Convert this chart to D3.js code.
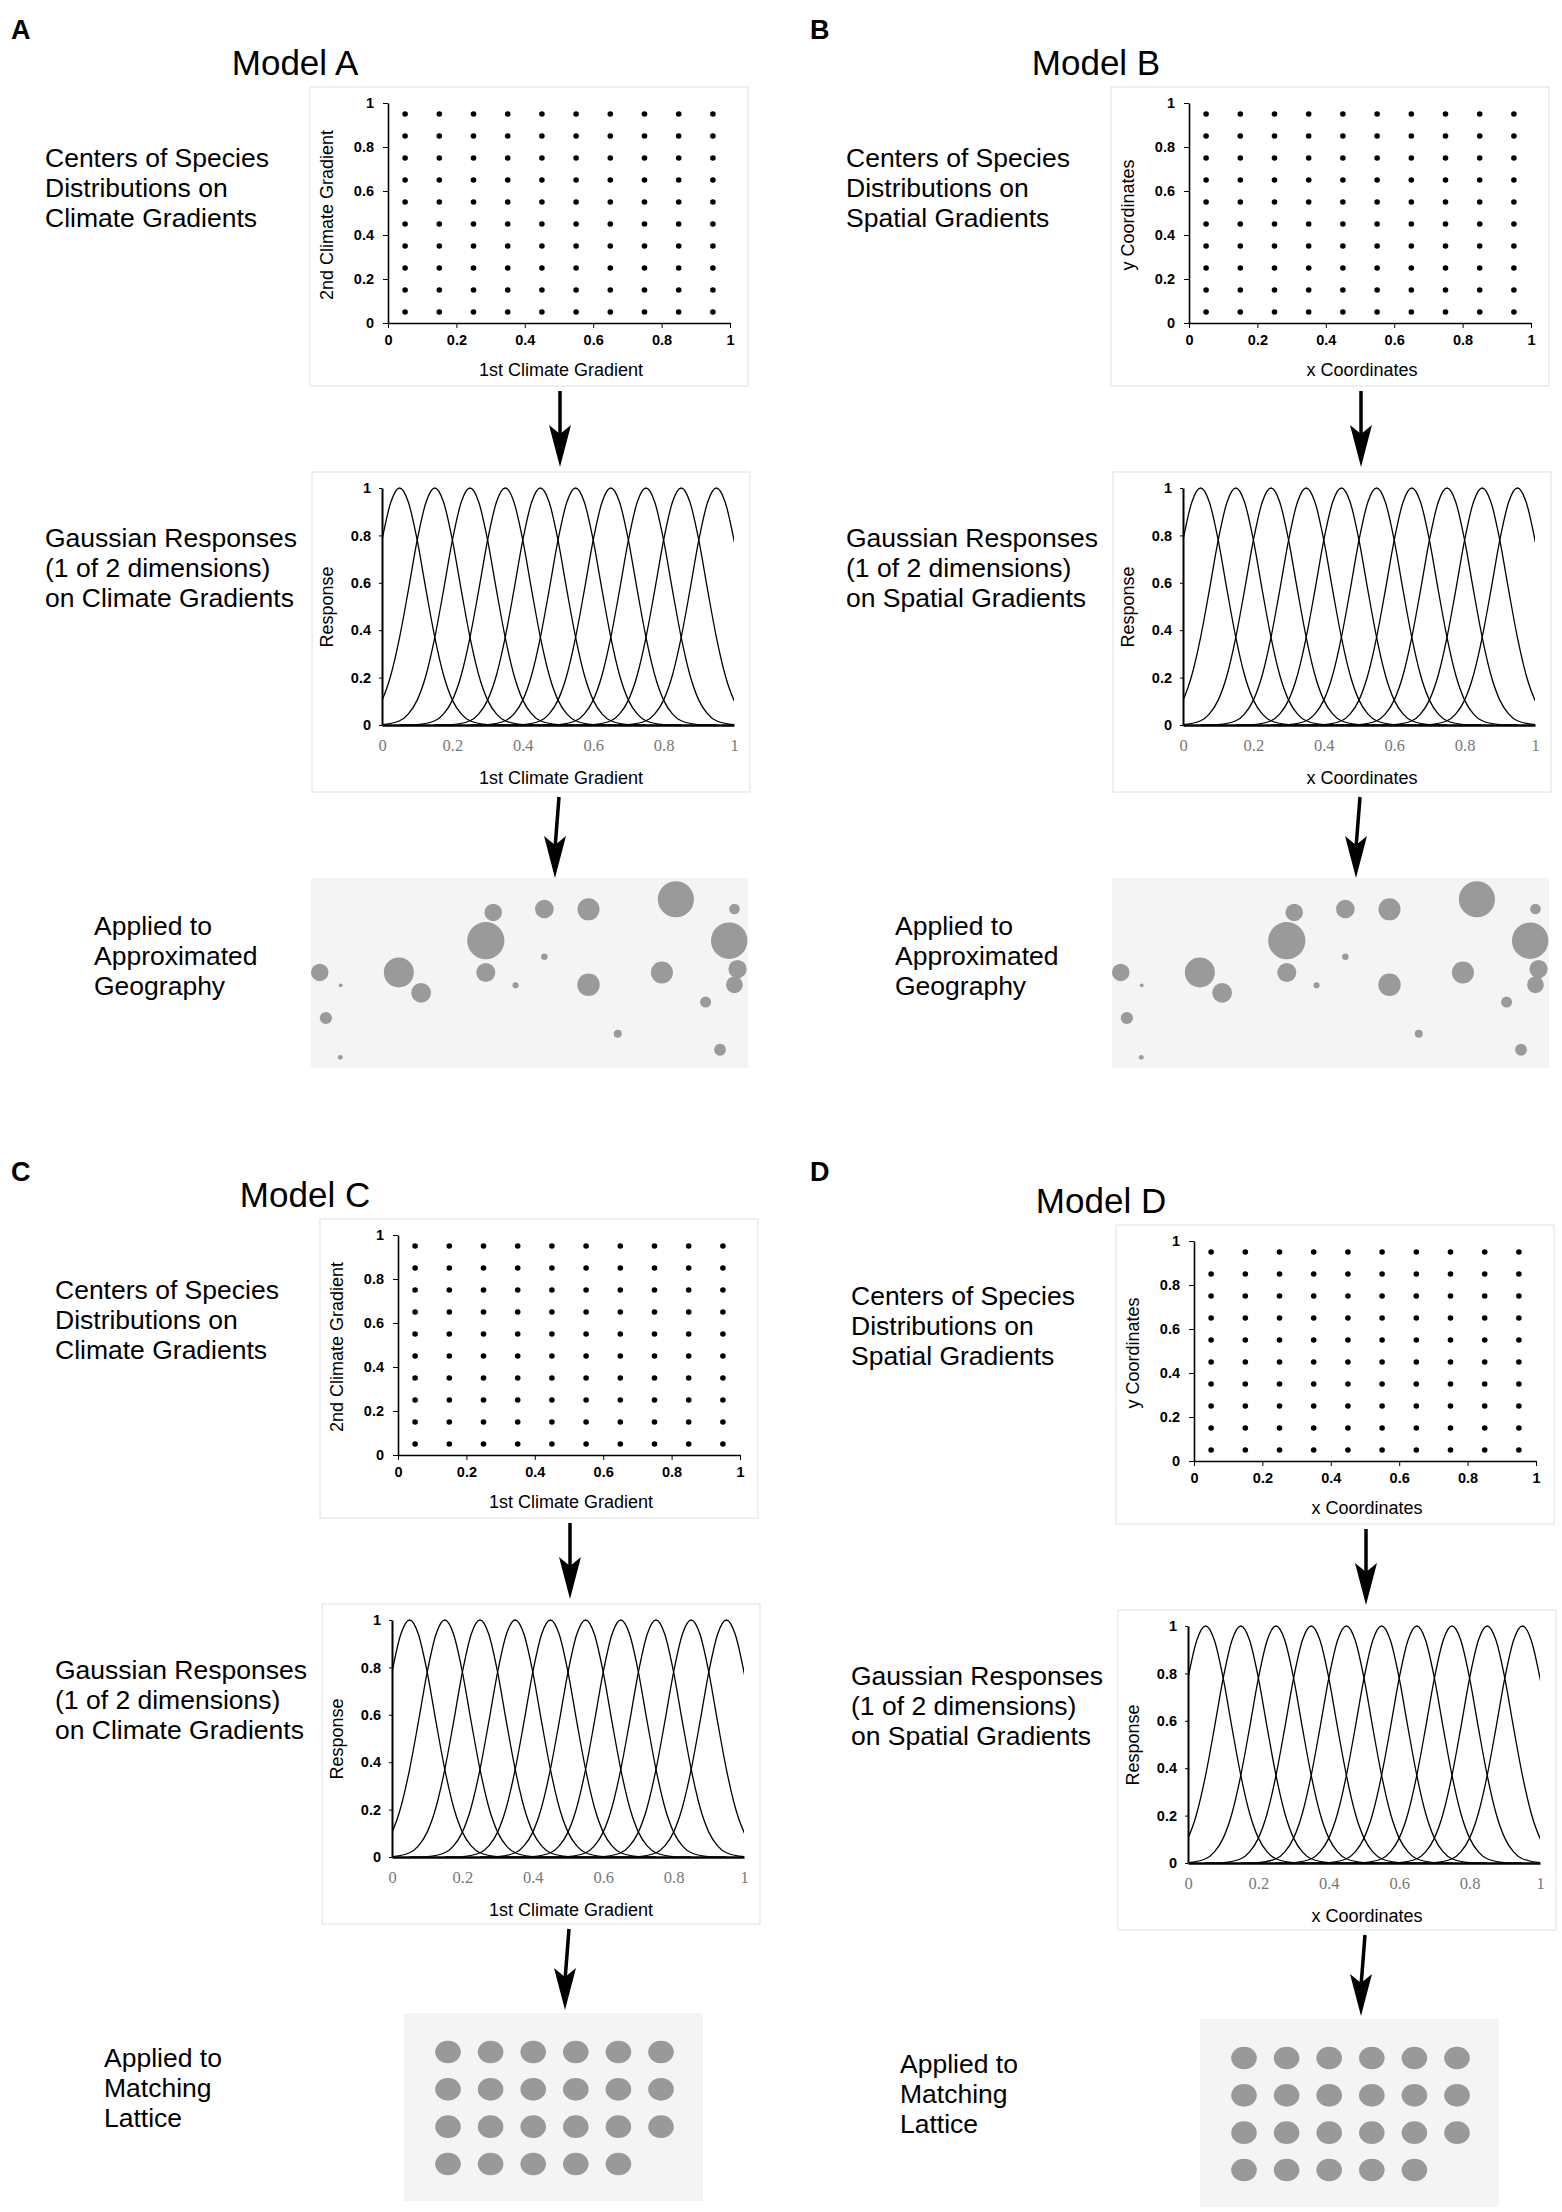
<!DOCTYPE html>
<html>
<head>
<meta charset="utf-8">
<script src="https://cdn.jsdelivr.net/npm/d3@7"></script>
<style>
  body { margin: 0; background: #fff; }
  text { font-family: "Liberation Sans", Arial, sans-serif; }
</style>
</head>
<body>
<div id="chart"></div>
<script>
// ---- data ----
const panelLetters = ["A", "B", "C", "D"]
const modelNames = ["Model A", "Model B", "Model C", "Model D"]

// centres of species distributions (same on both axes)
const gridCenters = [0.05, 0.15, 0.25, 0.35, 0.45, 0.55, 0.65, 0.75, 0.85, 0.95]
const axisTicks = [0, 0.2, 0.4, 0.6, 0.8, 1]

// one gaussian response, read as distance from its centre -> response
const profileOffset = [0, 0.025, 0.05, 0.075, 0.1, 0.125, 0.15, 0.175, 0.2, 0.25, 0.3]
const profileResponse = [1, 0.94, 0.78, 0.57, 0.37, 0.21, 0.105, 0.047, 0.018, 0.002, 0]

// approximated geography: site position in the box (0-1) and relative size
const geoX = [0.417, 0.534, 0.635, 0.835, 0.969, 0.400, 0.957, 0.534, 0.020, 0.201, 0.400, 0.803,
              0.976, 0.068, 0.252, 0.468, 0.635, 0.969, 0.903, 0.034, 0.702, 0.936, 0.067]
const geoY = [0.181, 0.163, 0.165, 0.112, 0.163, 0.330, 0.330, 0.414, 0.497, 0.497, 0.497, 0.497,
              0.479, 0.565, 0.604, 0.565, 0.562, 0.562, 0.653, 0.737, 0.820, 0.904, 0.944]
const geoSize = [0.46, 0.49, 0.58, 0.95, 0.28, 0.98, 0.96, 0.17, 0.46, 0.79, 0.50, 0.58,
                 0.48, 0.10, 0.52, 0.16, 0.59, 0.44, 0.29, 0.32, 0.21, 0.31, 0.13]

// matching lattice: column / row of each cell
const latticeCol = [1, 2, 3, 4, 5, 6, 1, 2, 3, 4, 5, 6, 1, 2, 3, 4, 5, 6, 1, 2, 3, 4, 5]
const latticeRow = [1, 1, 1, 1, 1, 1, 2, 2, 2, 2, 2, 2, 3, 3, 3, 3, 3, 3, 4, 4, 4, 4, 4]

// text
const centersClimate = ["Centers of Species", "Distributions on", "Climate Gradients"]
const centersSpatial = ["Centers of Species", "Distributions on", "Spatial Gradients"]
const gaussClimate = ["Gaussian Responses", "(1 of 2 dimensions)", "on Climate Gradients"]
const gaussSpatial = ["Gaussian Responses", "(1 of 2 dimensions)", "on Spatial Gradients"]
const appliedGeo = ["Applied to", "Approximated", "Geography"]
const appliedLattice = ["Applied to", "Matching", "Lattice"]

// panel placement (offsets from panel A)
const panels = [
  { dx: 0,   dy: 0,    climate: true,  geo: true,  lx: 11,  ly: 39 },
  { dx: 801, dy: 0,    climate: false, geo: true,  lx: 810, ly: 39 },
  { dx: 10,  dy: 1132, climate: true,  geo: false, lx: 11,  ly: 1181 },
  { dx: 806, dy: 1138, climate: false, geo: false, lx: 810, ly: 1181 }
]

// ---- drawing ----
const svg = d3.select("#chart").append("svg")
    .attr("width", 1562)
    .attr("height", 2212)

const fmt = d => String(d)

function textBlock(g, lines, x, y) {
  const t = g.append("text")
      .attr("x", x)
      .attr("y", y)
      .style("font-size", "26.5px")
      .style("fill", "#000")
  lines.forEach((l, i) => {
    t.append("tspan").attr("x", x).attr("dy", i === 0 ? 0 : 30).text(l)
  })
}

function arrow(g, x1, y1, x2, y2) {
  g.append("line")
    .attr("x1", x1).attr("y1", y1)
    .attr("x2", x2).attr("y2", y2 - 30)
    .style("stroke", "#000")
    .style("stroke-width", 3.5)
  g.append("path")
    .attr("d", `M${x2},${y2} L${x2 - 11},${y2 - 42} L${x2},${y2 - 33} L${x2 + 11},${y2 - 42} Z`)
    .style("fill", "#000")
}

function styleAxis(sel, bold, font, size, color) {
  sel.selectAll(".tick text")
    .style("font-family", font)
    .style("font-size", size)
    .style("font-weight", bold ? "bold" : "normal")
    .style("fill", color)
  sel.selectAll(".tick line").style("stroke", "#000")
}

panels.forEach((p, i) => {
  const g = svg.append("g").attr("transform", `translate(${p.dx},${p.dy})`)

  // panel letter (placed in page coordinates)
  svg.append("text")
    .text(panelLetters[i])
    .attr("x", p.lx)
    .attr("y", p.ly)
    .style("font-size", "27px")
    .style("font-weight", "bold")

  g.append("text")
    .text(modelNames[i])
    .attr("x", 295)
    .attr("y", 75)
    .attr("text-anchor", "middle")
    .style("font-size", "35px")

  textBlock(g, p.climate ? centersClimate : centersSpatial, 45, 167)
  textBlock(g, p.climate ? gaussClimate : gaussSpatial, 45, 547)
  textBlock(g, p.geo ? appliedGeo : appliedLattice, 94, 935)

  // --- centres scatter ---
  g.append("rect")
    .attr("x", 310).attr("y", 87)
    .attr("width", 438).attr("height", 299)
    .style("fill", "#fff")
    .style("stroke", "#e0e0e0")

  const x = d3.scaleLinear().domain([0, 1]).range([388, 730])
  const y = d3.scaleLinear().domain([0, 1]).range([323, 103])

  g.selectAll(".dot")
    .data(d3.cross(gridCenters, gridCenters))
    .enter()
    .append("circle")
    .attr("class", "dot")
    .attr("cx", d => x(d[0]))
    .attr("cy", d => y(d[1]))
    .attr("r", 2.8)
    .style("fill", "#000")

  const xa = g.append("g")
    .attr("transform", `translate(0,${y(0)})`)
    .call(d3.axisBottom(x).tickValues(axisTicks).tickFormat(fmt).tickSize(5).tickSizeOuter(0).tickPadding(7))
  xa.select(".domain").style("stroke", "#000").style("stroke-width", 1.6)
  styleAxis(xa, true, "Liberation Sans", "14.5px", "#000")

  const ya = g.append("g")
    .attr("transform", `translate(${x(0)},0)`)
    .call(d3.axisLeft(y).tickValues(axisTicks).tickFormat(fmt).tickSize(5).tickSizeOuter(0).tickPadding(9))
  ya.select(".domain").style("stroke", "#000").style("stroke-width", 1.6)
  styleAxis(ya, true, "Liberation Sans", "14.5px", "#000")

  g.append("text")
    .text(p.climate ? "1st Climate Gradient" : "x Coordinates")
    .attr("x", 561).attr("y", 376)
    .attr("text-anchor", "middle")
    .style("font-size", "18px")

  g.append("text")
    .text(p.climate ? "2nd Climate Gradient" : "y Coordinates")
    .attr("transform", "translate(333,215) rotate(-90)")
    .attr("text-anchor", "middle")
    .style("font-size", "18px")

  arrow(g, 560, 391, 560, 467)

  // --- gaussian responses ---
  g.append("rect")
    .attr("x", 312).attr("y", 472)
    .attr("width", 438).attr("height", 320)
    .style("fill", "#fff")
    .style("stroke", "#e0e0e0")

  const gx = d3.scaleLinear().domain([0, 1]).range([382, 734])
  const gy = d3.scaleLinear().domain([0, 1]).range([725, 488])

  const clipId = "clip" + i
  g.append("clipPath").attr("id", clipId)
    .append("rect")
    .attr("x", gx(0)).attr("y", gy(1) - 5)
    .attr("width", gx(1) - gx(0)).attr("height", gy(0) - gy(1) + 10)

  const line = d3.line()
    .x(d => gx(d[0]))
    .y(d => gy(d[1]))
    .curve(d3.curveMonotoneX)

  const curves = gridCenters.map(c => {
    const left = profileOffset.slice(1).reverse().map((o, k) => [c - o, profileResponse[profileOffset.length - 1 - k]])
    const right = profileOffset.map((o, k) => [c + o, profileResponse[k]])
    return left.concat(right)
  })

  g.append("g")
    .attr("clip-path", `url(#${clipId})`)
    .selectAll(".resp")
    .data(curves)
    .enter()
    .append("path")
    .attr("class", "resp")
    .attr("d", line)
    .style("fill", "none")
    .style("stroke", "#000")
    .style("stroke-width", 1.3)

  const gxa = g.append("g")
    .attr("transform", `translate(0,${gy(0)})`)
    .call(d3.axisBottom(gx).tickValues(axisTicks).tickFormat(fmt).tickSize(0).tickPadding(14))
  gxa.select(".domain").style("stroke", "#000").style("stroke-width", 2.5)
  styleAxis(gxa, false, "Liberation Serif", "16.5px", "#777")

  const gya = g.append("g")
    .attr("transform", `translate(${gx(0)},0)`)
    .call(d3.axisLeft(gy).tickValues(axisTicks).tickFormat(fmt).tickSize(3).tickSizeOuter(0).tickPadding(8))
  gya.select(".domain").style("stroke", "#000").style("stroke-width", 2)
  styleAxis(gya, true, "Liberation Sans", "14.5px", "#000")

  g.append("text")
    .text(p.climate ? "1st Climate Gradient" : "x Coordinates")
    .attr("x", 561).attr("y", 784)
    .attr("text-anchor", "middle")
    .style("font-size", "18px")

  g.append("text")
    .text("Response")
    .attr("transform", "translate(333,607) rotate(-90)")
    .attr("text-anchor", "middle")
    .style("font-size", "18px")

  arrow(g, 559, 797, 555, 878)

  // --- applied map ---
  if (p.geo) {
    g.append("rect")
      .attr("x", 311).attr("y", 878)
      .attr("width", 437).attr("height", 190)
      .style("fill", "#f4f4f4")

    const mx = d3.scaleLinear().domain([0, 1]).range([311, 748])
    const my = d3.scaleLinear().domain([0, 1]).range([878, 1068])
    const mr = d3.scaleLinear().domain([0, 1]).range([0, 19])

    g.selectAll(".site")
      .data(geoX.map((v, k) => ({ x: v, y: geoY[k], s: geoSize[k] })))
      .enter()
      .append("circle")
      .attr("class", "site")
      .attr("cx", d => mx(d.x))
      .attr("cy", d => my(d.y))
      .attr("r", d => mr(d.s))
      .style("fill", "#9a9a9a")
  } else {
    g.append("rect")
      .attr("x", 394).attr("y", 881)
      .attr("width", 299).attr("height", 188)
      .style("fill", "#f4f4f4")

    const cx = d3.scalePoint().domain([1, 2, 3, 4, 5, 6]).range([438, 651])
    const cy = d3.scalePoint().domain([1, 2, 3, 4]).range([920, 1032])

    g.selectAll(".cell")
      .data(latticeCol.map((c, k) => ({ c: c, r: latticeRow[k] })))
      .enter()
      .append("ellipse")
      .attr("class", "cell")
      .attr("cx", d => cx(d.c))
      .attr("cy", d => cy(d.r))
      .attr("rx", 12.8)
      .attr("ry", 11.3)
      .style("fill", "#999")
  }
})
</script>
</body>
</html>
